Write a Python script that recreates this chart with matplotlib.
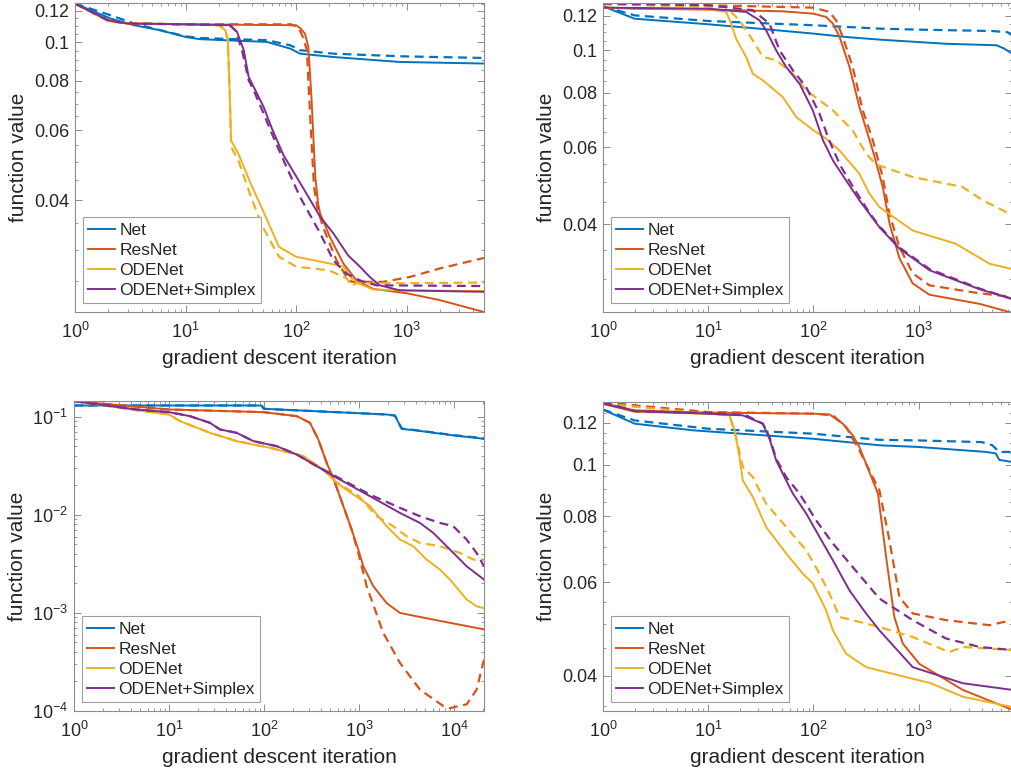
import numpy as np
import matplotlib
matplotlib.use("Agg")
import matplotlib.pyplot as plt
from matplotlib.ticker import (FixedLocator, FixedFormatter, NullFormatter,
                               LogLocator, LogFormatterSciNotation)

plt.rcParams['font.family'] = ['Liberation Sans', 'DejaVu Sans']
plt.rcParams['mathtext.fontset'] = 'custom'
plt.rcParams['mathtext.rm'] = 'Liberation Sans'
plt.rcParams['mathtext.it'] = 'Liberation Sans:italic'
plt.rcParams['mathtext.bf'] = 'Liberation Sans:bold'

# ---------------- labels / styling constants ----------------
SERIES = ['Net', 'ResNet', 'ODENet', 'ODENet+Simplex']
COLORS = ['#0072BD', '#D95319', '#EDB120', '#7E2F8E']
X_LABEL = 'gradient descent iteration'
Y_LABEL = 'function value'
LIN_TICKS = [0.04, 0.06, 0.08, 0.1, 0.12]
LIN_TICK_LABELS = ['0.04', '0.06', '0.08', '0.1', '0.12']

# ---------------- top-left panel ----------------
tl_net_x = [1, 2.11, 3.42, 5.95, 10, 13.6, 54.4, 88.3, 108.7, 217, 865, 4940]
tl_net_y = [0.1252, 0.1147, 0.1104, 0.1072, 0.1031, 0.1018, 0.1002, 0.0964, 0.0936, 0.0918, 0.0892, 0.0884]
tl_net_dx = [1, 2.11, 3.42, 5.95, 10, 13.6, 54.4, 88.3, 108.7, 217, 865, 4940]
tl_net_dy = [0.1252, 0.1169, 0.1115, 0.1072, 0.1035, 0.1025, 0.1012, 0.0983, 0.0955, 0.0936, 0.0922, 0.0913]
tl_res_x = [1, 2, 3, 10, 100, 110, 120, 129, 138, 149, 158, 165, 202, 267, 352, 497, 1000, 1983, 5000]
tl_res_y = [0.1252, 0.1132, 0.1115, 0.1110, 0.1104, 0.1082, 0.1052, 0.0973, 0.0714, 0.0458, 0.0392, 0.0370, 0.0323, 0.0277, 0.0251, 0.0239, 0.0233, 0.0224, 0.0209]
tl_res_dx = [1, 2, 3, 10, 90, 105, 115, 125, 134, 145, 155, 175, 232, 286, 318, 612, 1064, 1983, 5000]
tl_res_dy = [0.1252, 0.1132, 0.1115, 0.1110, 0.1110, 0.1089, 0.1031, 0.0955, 0.0648, 0.0432, 0.0385, 0.0342, 0.0282, 0.0256, 0.0249, 0.0249, 0.0256, 0.0269, 0.0286]
tl_ode_x = [1, 2, 3, 10, 20, 22.9, 24.1, 25.1, 25.8, 30, 40, 50, 70, 100, 200, 267, 318, 364, 497, 1000, 5000]
tl_ode_y = [0.1252, 0.1132, 0.1115, 0.1110, 0.1104, 0.1072, 0.1012, 0.0742, 0.0566, 0.0524, 0.0432, 0.0377, 0.0305, 0.0288, 0.0277, 0.0272, 0.0254, 0.0247, 0.0238, 0.0237, 0.0236]
tl_ode_dx = [1, 2, 3, 10, 20, 22.9, 24.1, 25.1, 25.8, 30, 40, 50, 70, 100, 200, 286, 318, 352, 1000, 5000]
tl_ode_dy = [0.1252, 0.1132, 0.1115, 0.1110, 0.1104, 0.1072, 0.1012, 0.0742, 0.0545, 0.0504, 0.0400, 0.0342, 0.0288, 0.0272, 0.0266, 0.0254, 0.0243, 0.0247, 0.0247, 0.0248]
tl_sim_x = [1, 2, 3, 10, 25.1, 29.2, 33.6, 37.2, 41.3, 50.8, 60.4, 76.9, 108.7, 165, 217, 296, 377, 464, 571, 865, 4940]
tl_sim_y = [0.1252, 0.1136, 0.1115, 0.1110, 0.1104, 0.1062, 0.0955, 0.0818, 0.0772, 0.0687, 0.0606, 0.0519, 0.0442, 0.0363, 0.0330, 0.0290, 0.0272, 0.0256, 0.0244, 0.0237, 0.0235]
tl_sim_dx = [1, 2, 3, 10, 25.1, 28.2, 32.4, 37.2, 41.3, 50.8, 60.4, 76.9, 108.7, 165, 217, 286, 377, 533, 4940]
tl_sim_dy = [0.1252, 0.1136, 0.1115, 0.1110, 0.1104, 0.1072, 0.0955, 0.0802, 0.0757, 0.0661, 0.0588, 0.0504, 0.0407, 0.0330, 0.0282, 0.0261, 0.0251, 0.0244, 0.0243]

# ---------------- top-right panel ----------------
tr_net_x = [1, 2, 10, 30, 100, 200, 423, 1820, 5500, 6500, 7700]
tr_net_y = [0.1261, 0.1181, 0.1147, 0.1121, 0.1092, 0.1073, 0.1058, 0.1035, 0.1027, 0.1009, 0.0983]
tr_net_dx = [1, 2, 10, 100, 423, 1000, 5000, 7000, 7700]
tr_net_dy = [0.1261, 0.1202, 0.1167, 0.1141, 0.1121, 0.1115, 0.1107, 0.1100, 0.1082]
tr_res_x = [1, 2, 10, 51, 100, 132, 153, 177, 220, 273, 366, 455, 530, 655, 877, 1265, 3800, 7700]
tr_res_y = [0.1252, 0.1245, 0.1239, 0.1228, 0.1213, 0.1192, 0.1151, 0.1073, 0.0916, 0.0742, 0.0590, 0.0487, 0.0400, 0.0335, 0.0293, 0.0276, 0.0263, 0.0251]
tr_res_dx = [1, 10, 100, 142, 164, 190, 236, 294, 366, 455, 527, 655, 877, 1265, 3800, 7700]
tr_res_dy = [0.1283, 0.1268, 0.1252, 0.1224, 0.1171, 0.1073, 0.0916, 0.0729, 0.0623, 0.0513, 0.0423, 0.0355, 0.0309, 0.0290, 0.0278, 0.0273]
tr_ode_x = [1, 10, 14.8, 16.5, 18.4, 22.9, 26.5, 33, 51, 68.5, 100, 132, 177, 273, 340, 423, 877, 2250, 4700, 7700]
tr_ode_y = [0.1252, 0.1241, 0.1224, 0.1151, 0.1063, 0.0966, 0.0884, 0.0854, 0.0782, 0.0704, 0.0656, 0.0628, 0.0590, 0.0522, 0.0470, 0.0438, 0.0387, 0.0361, 0.0325, 0.0316]
tr_ode_dx = [1, 14.8, 19.8, 26.5, 33, 44.2, 63.7, 85.2, 114, 153, 236, 316, 394, 877, 2600, 4055, 7700]
tr_ode_dy = [0.1274, 0.1256, 0.1171, 0.1054, 0.0966, 0.0949, 0.0884, 0.0810, 0.0769, 0.0729, 0.0656, 0.0580, 0.0548, 0.0513, 0.0487, 0.0454, 0.0420]
tr_sim_x = [1, 10, 22.9, 30.7, 35.5, 44.2, 55, 73.6, 98.6, 123, 153, 204, 273, 423, 655, 1265, 3800, 7700]
tr_sim_y = [0.1252, 0.1245, 0.1224, 0.1171, 0.1111, 0.1000, 0.0916, 0.0839, 0.0729, 0.0623, 0.0560, 0.0504, 0.0454, 0.0394, 0.0352, 0.0314, 0.0284, 0.0270]
tr_sim_dx = [1, 10, 26.5, 38.2, 47.6, 63.7, 85.2, 114, 140, 180, 240, 340, 423, 655, 1265, 3800, 7700]
tr_sim_dy = [0.1279, 0.1268, 0.1235, 0.1151, 0.1000, 0.0900, 0.0824, 0.0717, 0.0625, 0.0545, 0.0485, 0.0425, 0.0396, 0.0354, 0.0316, 0.0285, 0.0270]

# ---------------- bottom-left panel ----------------
bl_net_x = [1, 94, 100, 1955, 2393, 2812, 4000, 10000, 20700]
bl_net_y = [0.1305, 0.1305, 0.1207, 0.1056, 0.1030, 0.0754, 0.0726, 0.0645, 0.0597]
bl_net_dx = [1, 94, 100, 1955, 2393, 2812, 4000, 10000, 20700]
bl_net_dy = [0.1305, 0.1305, 0.1207, 0.1056, 0.1030, 0.0760, 0.0730, 0.0650, 0.0605]
bl_res_x = [1, 10, 98.4, 221, 305, 373, 457, 559, 684, 837, 984, 1111, 1416, 1955, 2701, 6055, 20700]
bl_res_y = [0.1445, 0.1188, 0.1116, 0.1016, 0.0868, 0.0587, 0.0340, 0.0212, 0.0123, 0.00708, 0.00443, 0.00299, 0.00187, 0.00126, 0.00100, 0.000855, 0.00068]
bl_res_dx = [1, 10, 98.4, 221, 305, 373, 457, 559, 684, 837, 984, 1205, 1803, 2701, 4385, 7750, 9080, 13600, 17300, 20700]
bl_res_dy = [0.1445, 0.1188, 0.1116, 0.1016, 0.0868, 0.0587, 0.0340, 0.0212, 0.0123, 0.00708, 0.00409, 0.00187, 0.000625, 0.000309, 0.000165, 0.000112, 0.000107, 0.000117, 0.000165, 0.000334]
bl_ode_x = [1, 4.57, 10, 13.1, 27.0, 51.5, 116, 259, 421, 582, 1306, 1955, 2701, 3732, 5152, 7120, 9080, 13600, 17300, 20700]
bl_ode_y = [0.1445, 0.1169, 0.1056, 0.0903, 0.0687, 0.0565, 0.0483, 0.0397, 0.0290, 0.0212, 0.0123, 0.00766, 0.00560, 0.00479, 0.00350, 0.00277, 0.00219, 0.00137, 0.00117, 0.00112]
bl_ode_dx = [1, 4.57, 10, 13.1, 27.0, 51.5, 116, 259, 421, 582, 1000, 1535, 2297, 3175, 4385, 7120, 11560, 16000, 20700]
bl_ode_dy = [0.1445, 0.1169, 0.1056, 0.0903, 0.0687, 0.0565, 0.0483, 0.0397, 0.0290, 0.0215, 0.0155, 0.00968, 0.00766, 0.00605, 0.00518, 0.00479, 0.00409, 0.00350, 0.00350]
bl_sim_x = [1, 4.57, 10, 16.6, 27.0, 34.4, 51.5, 77.3, 136, 221, 358, 582, 1306, 2701, 4385, 6055, 9080, 13600, 20700]
bl_sim_y = [0.1445, 0.1188, 0.1116, 0.1016, 0.0868, 0.0743, 0.0687, 0.0565, 0.0502, 0.0413, 0.0314, 0.0239, 0.0155, 0.01047, 0.00828, 0.00655, 0.00443, 0.00299, 0.00219]
bl_sim_dx = [1, 4.57, 10, 16.6, 27.0, 34.4, 51.5, 77.3, 136, 221, 358, 582, 1306, 2701, 4385, 7120, 9840, 13600, 17300, 20700]
bl_sim_dy = [0.1445, 0.1188, 0.1116, 0.1016, 0.0868, 0.0743, 0.0687, 0.0565, 0.0502, 0.0413, 0.0314, 0.0245, 0.0161, 0.0118, 0.00968, 0.00828, 0.00766, 0.00560, 0.00409, 0.00299]

# ---------------- bottom-right panel ----------------
br_net_x = [1, 2, 7.15, 100, 423, 1000, 4355, 5400, 5830, 7700]
br_net_y = [0.1270, 0.1195, 0.1161, 0.1119, 0.1088, 0.1080, 0.1057, 0.1050, 0.1021, 0.1012]
br_net_dx = [1, 2, 10, 100, 423, 1000, 4000, 5000, 5830, 7700]
br_net_dy = [0.1270, 0.1212, 0.1169, 0.1144, 0.1114, 0.1111, 0.1103, 0.1088, 0.1057, 0.1057]
br_res_x = [1, 2, 10, 100, 142, 190, 236, 273, 316, 410, 490, 587, 705, 1014, 2617, 7700]
br_res_y = [0.1307, 0.1266, 0.1254, 0.1248, 0.1244, 0.1195, 0.1136, 0.1080, 0.1004, 0.0882, 0.0670, 0.0516, 0.0460, 0.0421, 0.0376, 0.0345]
br_res_dx = [1, 2, 10, 100, 153, 204, 273, 340, 423, 527, 655, 877, 1816, 4690, 7700]
br_res_dy = [0.1313, 0.1294, 0.1257, 0.1248, 0.1239, 0.1178, 0.1064, 0.0976, 0.0895, 0.0720, 0.0563, 0.0524, 0.0509, 0.0498, 0.0509]
br_ode_x = [1, 2, 10, 15.9, 17.8, 19.8, 21.3, 26.5, 35.5, 55, 79.2, 98.6, 132, 153, 204, 316, 423, 1300, 2617, 7700]
br_ode_y = [0.1303, 0.1257, 0.1248, 0.1239, 0.1161, 0.1034, 0.0934, 0.0869, 0.0763, 0.0680, 0.0623, 0.0597, 0.0531, 0.0487, 0.0440, 0.0415, 0.0409, 0.0387, 0.0365, 0.0349]
br_ode_dx = [1, 10, 15.9, 18.4, 21.3, 26.5, 35.5, 55, 85.2, 114, 142, 177, 236, 423, 877, 1955, 2617, 7700]
br_ode_dy = [0.1303, 0.1248, 0.1239, 0.1128, 0.0990, 0.0948, 0.0844, 0.0763, 0.0690, 0.0623, 0.0571, 0.0516, 0.0509, 0.0494, 0.0473, 0.0443, 0.0453, 0.0447]
br_sim_x = [1, 2, 10, 21.3, 33, 38.2, 44.2, 55, 63.7, 85.2, 114, 153, 220, 316, 423, 877, 2617, 7700]
br_sim_y = [0.1303, 0.1262, 0.1248, 0.1239, 0.1195, 0.1119, 0.1019, 0.0934, 0.0882, 0.0809, 0.0731, 0.0660, 0.0579, 0.0524, 0.0487, 0.0415, 0.0387, 0.0376]
br_sim_dx = [1, 2, 10, 22.9, 33, 38.2, 44.2, 55, 73.6, 106, 153, 236, 423, 877, 1816, 3800, 7700]
br_sim_dy = [0.1313, 0.1262, 0.1252, 0.1239, 0.1195, 0.1128, 0.1026, 0.0948, 0.0882, 0.0785, 0.0710, 0.0641, 0.0559, 0.0509, 0.0470, 0.0453, 0.0447]

# ---------------- assemble ----------------
PANELS = [
    dict(pos=[75, 3, 409, 309], xlim=(1, 5000), ylim=(0.0209, 0.1256), lin=True,
         solid=[(tl_net_x, tl_net_y), (tl_res_x, tl_res_y), (tl_ode_x, tl_ode_y), (tl_sim_x, tl_sim_y)],
         dash=[(tl_net_dx, tl_net_dy), (tl_res_dx, tl_res_dy), (tl_ode_dx, tl_ode_dy), (tl_sim_dx, tl_sim_dy)]),
    dict(pos=[603, 3, 409, 309], xlim=(1, 7700), ylim=(0.0252, 0.1283), lin=True,
         solid=[(tr_net_x, tr_net_y), (tr_res_x, tr_res_y), (tr_ode_x, tr_ode_y), (tr_sim_x, tr_sim_y)],
         dash=[(tr_net_dx, tr_net_dy), (tr_res_dx, tr_res_dy), (tr_ode_dx, tr_ode_dy), (tr_sim_dx, tr_sim_dy)]),
    dict(pos=[74, 401, 410, 310], xlim=(1, 20700), ylim=(1e-4, 0.145), lin=False,
         solid=[(bl_net_x, bl_net_y), (bl_res_x, bl_res_y), (bl_ode_x, bl_ode_y), (bl_sim_x, bl_sim_y)],
         dash=[(bl_net_dx, bl_net_dy), (bl_res_dx, bl_res_dy), (bl_ode_dx, bl_ode_dy), (bl_sim_dx, bl_sim_dy)]),
    dict(pos=[603, 402, 409, 309], xlim=(1, 7700), ylim=(0.0343, 0.1313), lin=True,
         solid=[(br_net_x, br_net_y), (br_res_x, br_res_y), (br_ode_x, br_ode_y), (br_sim_x, br_sim_y)],
         dash=[(br_net_dx, br_net_dy), (br_res_dx, br_res_dy), (br_ode_dx, br_ode_dy), (br_sim_dx, br_sim_dy)]),
]

W, H = 1011, 776
fig = plt.figure(figsize=(W / 100, H / 100), dpi=100)
AX_COL = '#8c8c8c'
TXT_COL = '#262626'

for p in PANELS:
    l, t, w, h = p['pos']
    ax = fig.add_axes([l / W, (H - t - h) / H, w / W, h / H])
    ax.set_xscale('log')
    ax.set_yscale('log')
    handles = []
    for (xs, ys), (dxs, dys), c, name in zip(p['solid'], p['dash'], COLORS, SERIES):
        ln, = ax.plot(xs, ys, color=c, lw=1.4, label=name, solid_joinstyle='round')
        ax.plot(dxs, dys, color=c, lw=1.6, linestyle=(0, (4, 2.5)))
        handles.append(ln)
    ax.set_xlim(*p['xlim'])
    ax.set_ylim(*p['ylim'])

    ax.xaxis.set_major_locator(LogLocator(base=10, numticks=10))
    ax.xaxis.set_major_formatter(LogFormatterSciNotation())
    ax.xaxis.set_minor_locator(LogLocator(base=10, subs=np.arange(2, 10), numticks=20))
    ax.xaxis.set_minor_formatter(NullFormatter())
    if p['lin']:
        lo, hi = p['ylim']
        ax.yaxis.set_major_locator(FixedLocator(LIN_TICKS))
        ax.yaxis.set_major_formatter(FixedFormatter(LIN_TICK_LABELS))
        minors = [k * 0.005 for k in range(1, 40)
                  if lo <= k * 0.005 <= hi and k % 4 != 0 and k != 20 and k != 24]
        ax.yaxis.set_minor_locator(FixedLocator(minors))
        ax.yaxis.set_minor_formatter(NullFormatter())
    else:
        ax.yaxis.set_major_locator(LogLocator(base=10, numticks=10))
        ax.yaxis.set_major_formatter(LogFormatterSciNotation())
        ax.yaxis.set_minor_locator(LogLocator(base=10, subs=np.arange(2, 10), numticks=20))
        ax.yaxis.set_minor_formatter(NullFormatter())

    ax.tick_params(which='both', direction='in', top=True, right=True,
                   color=AX_COL, labelcolor=TXT_COL, labelsize=13)
    ax.tick_params(which='major', length=5, width=0.7)
    ax.tick_params(which='minor', length=2.5, width=0.6)
    ax.tick_params(axis='x', which='major', pad=7)
    ax.tick_params(axis='y', which='major', pad=4)
    for s in ax.spines.values():
        s.set_color(AX_COL)
        s.set_linewidth(0.8)

    ax.set_xlabel(X_LABEL, fontsize=15, color=TXT_COL)
    ax.set_ylabel(Y_LABEL, fontsize=15, color=TXT_COL)
    ax.xaxis.set_label_coords(0.5, -0.12)
    ax.yaxis.set_label_coords(-0.115, 0.5)

    leg = ax.legend(handles=handles, loc='lower left', bbox_to_anchor=(0.0196, 0.029),
                    borderaxespad=0, fontsize=12.5, handlelength=1.55, handletextpad=0.25,
                    borderpad=0.3, labelspacing=0.28, fancybox=False, framealpha=1,
                    edgecolor='#a0a0a0')
    leg.get_frame().set_linewidth(0.8)
    for txt in leg.get_texts():
        txt.set_color(TXT_COL)

fig.savefig('out.png', dpi=100)
